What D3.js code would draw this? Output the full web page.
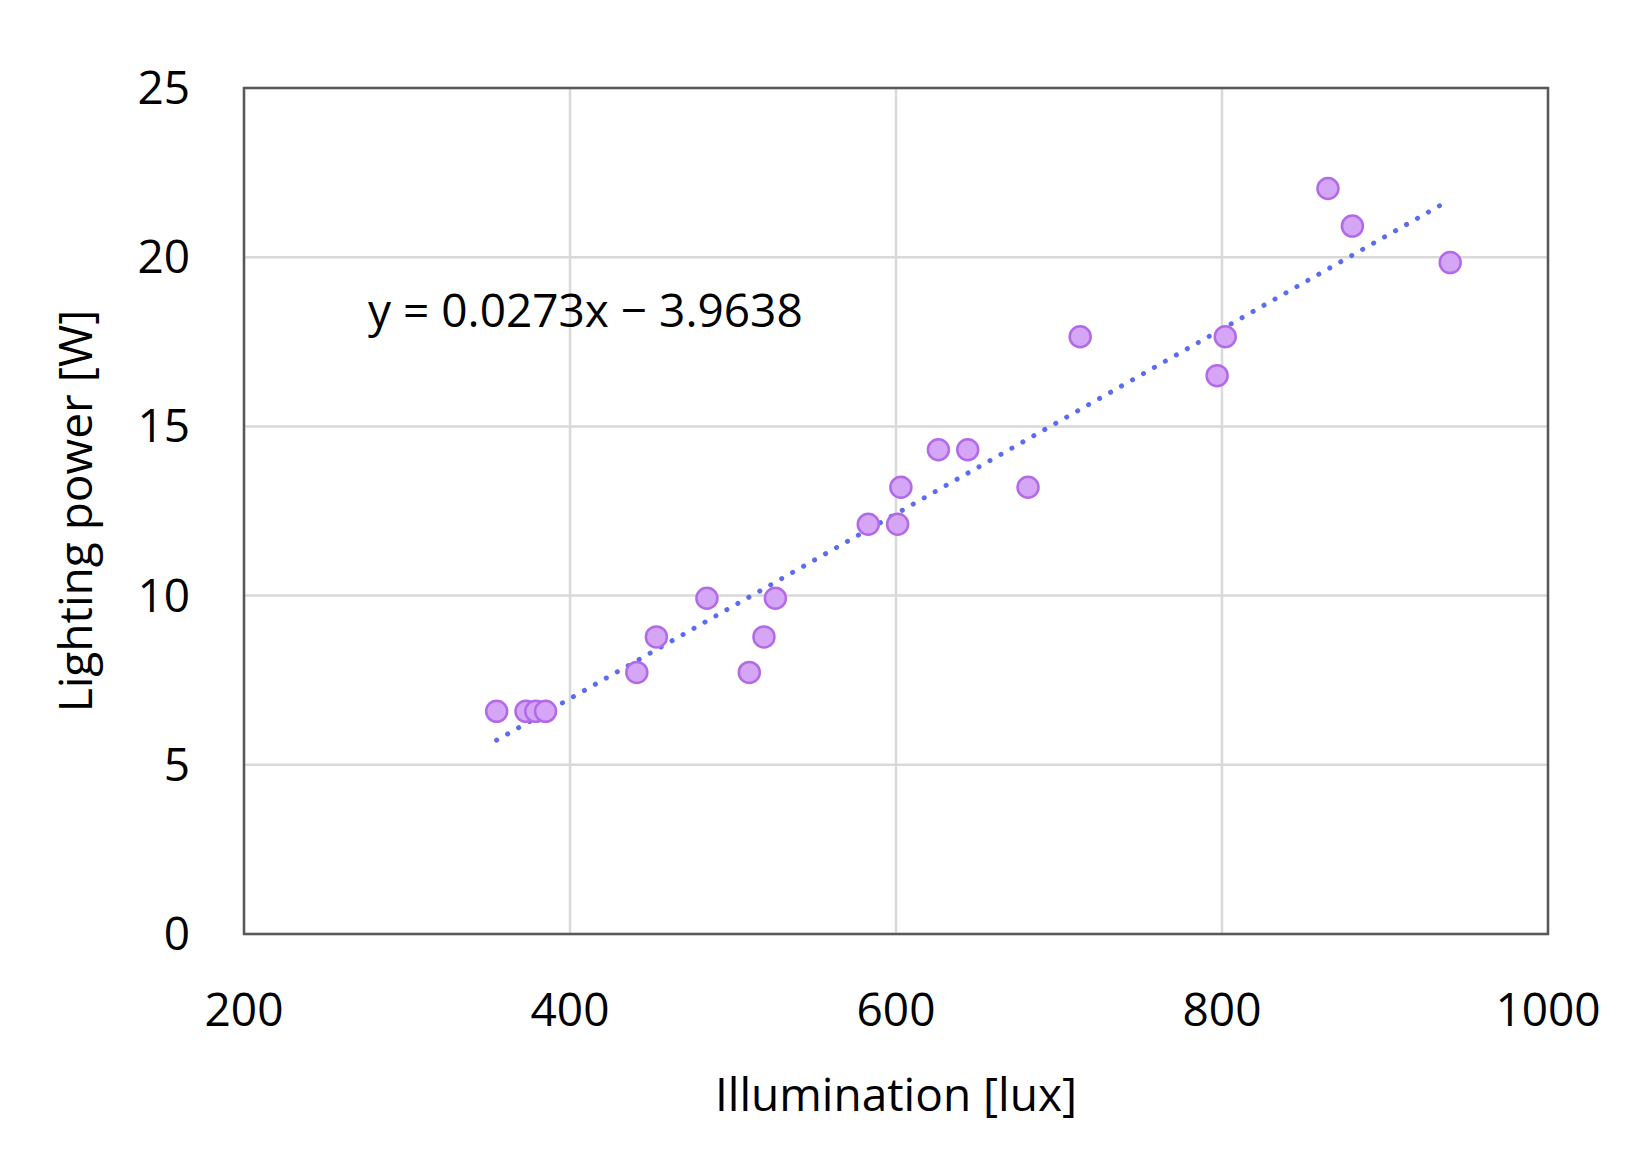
<!DOCTYPE html>
<html><head><meta charset="utf-8">
<script src="https://cdn.jsdelivr.net/npm/d3@7"></script>
<style>body{margin:0;background:#fff}</style>
</head><body>
<script>
var illum = [355, 373, 379, 385, 441, 453, 484, 510, 519, 526, 583, 601, 603, 626, 644, 681, 713, 797, 802, 865, 880, 940];
var power = [6.58, 6.58, 6.58, 6.58, 7.73, 8.78, 9.92, 7.73, 8.78, 9.92, 12.11, 12.11, 13.2, 14.31, 14.31, 13.2, 17.65, 16.5, 17.65, 22.03, 20.92, 19.84];
var xTicks = [200, 400, 600, 800, 1000];
var yTicks = [0, 5, 10, 15, 20, 25];
var slope = 0.0273, intercept = -3.9638;

var W = 1631, H = 1157;
var margin = { top: 88, left: 244 },
    width = 1548 - margin.left,
    height = 934 - margin.top;

var svg = d3.select("body").append("svg").attr("width", W).attr("height", H)
    .style("font-family", "'Open Sans', sans-serif");
var g = svg.append("g").attr("transform", "translate(" + margin.left + "," + margin.top + ")");

var x = d3.scaleLinear().domain([200, 1000]).range([0, width]);
var y = d3.scaleLinear().domain([0, 25]).range([height, 0]);

// grid
g.selectAll(".vg").data(xTicks).enter().append("line")
    .attr("x1", x).attr("x2", x).attr("y1", 0).attr("y2", height)
    .attr("stroke", "#d9d9d9").attr("stroke-width", 2.5);
g.selectAll(".hg").data(yTicks).enter().append("line")
    .attr("y1", y).attr("y2", y).attr("x1", 0).attr("x2", width)
    .attr("stroke", "#d9d9d9").attr("stroke-width", 2.5);
g.append("rect").attr("width", width).attr("height", height)
    .attr("fill", "none").attr("stroke", "#595959").attr("stroke-width", 2.5);

// tick labels
g.selectAll(".xl").data(xTicks).enter().append("text")
    .attr("x", x).attr("y", height + 92).attr("text-anchor", "middle")
    .attr("font-size", 46).text(function (d) { return d; });
g.selectAll(".yl").data(yTicks).enter().append("text")
    .attr("x", -54).attr("y", function (d) { return y(d) + 16; }).attr("text-anchor", "end")
    .attr("font-size", 46).text(function (d) { return d; });

svg.append("text").attr("x", margin.left + width / 2).attr("y", 1111)
    .attr("text-anchor", "middle").attr("font-size", 46).text("Illumination [lux]");
svg.append("text").attr("transform", "translate(92," + (margin.top + height / 2) + ") rotate(-90)")
    .attr("text-anchor", "middle").attr("font-size", 46).text("Lighting power [W]");

// trendline
var x0 = d3.min(illum), x1 = d3.max(illum);
g.append("line")
    .attr("x1", x(x0)).attr("y1", y(slope * x0 + intercept))
    .attr("x2", x(x1)).attr("y2", y(slope * x1 + intercept))
    .attr("stroke", "#5b6cf0").attr("stroke-width", 5)
    .attr("stroke-dasharray", "0.1 12.5").attr("stroke-linecap", "round");

g.selectAll(".dot").data(illum).enter().append("circle")
    .attr("cx", function (d) { return x(d); })
    .attr("cy", function (d, i) { return y(power[i]); })
    .attr("r", 10.5).attr("fill", "#d5a6f5").attr("stroke", "#b36ae8").attr("stroke-width", 2.5);

svg.append("text").attr("x", 368).attr("y", 327).attr("font-size", 46)
    .text("y = 0.0273x \u2212 3.9638");
</script>
</body></html>
